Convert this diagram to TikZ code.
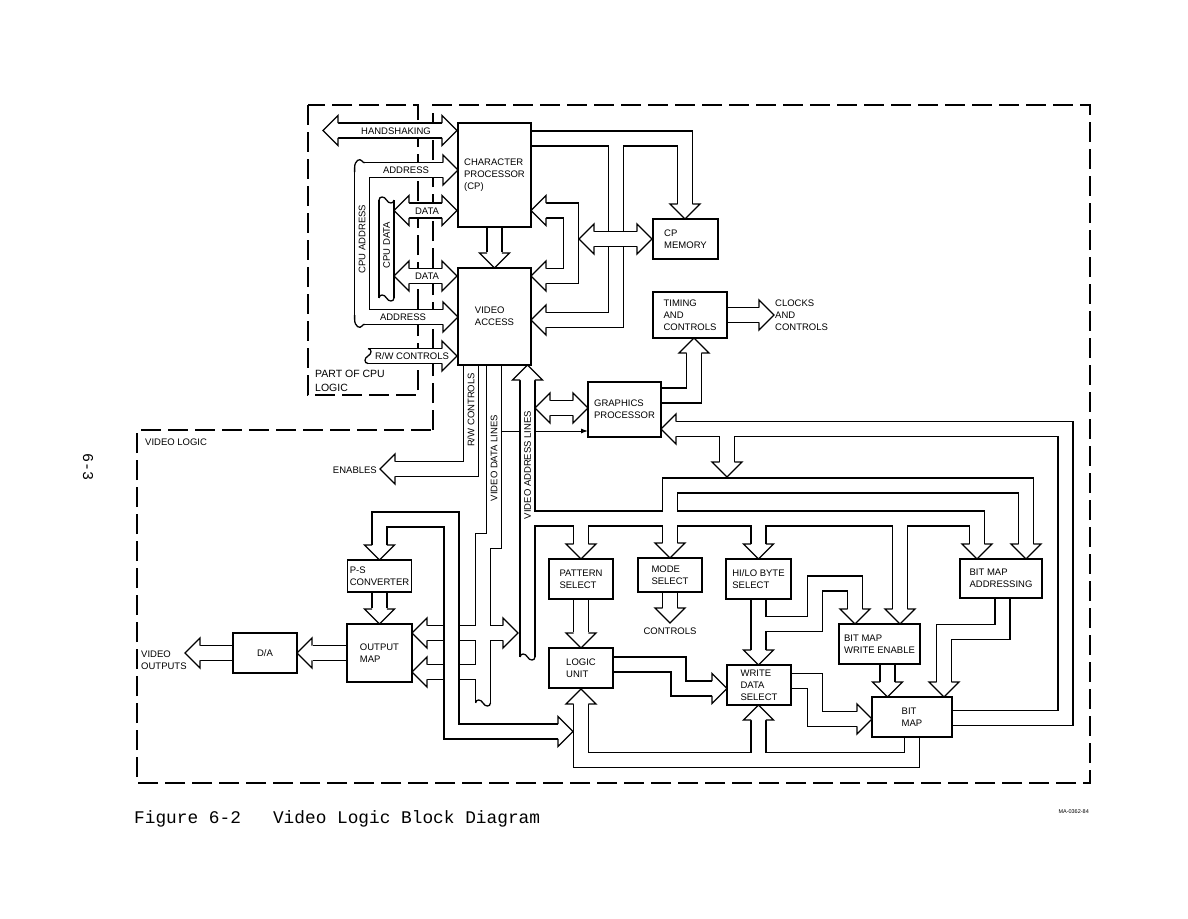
\documentclass[tikz,border=0pt]{standalone}
\usepackage{fontspec}
\setmainfont{Liberation Sans}
\newfontfamily\typewriter{Liberation Mono}
\usetikzlibrary{arrows.meta}
\pgfdeclarelayer{bg}
\pgfsetlayers{bg,main}

\tikzset{
  blk/.style={draw, line width=1.4pt, inner sep=1pt, align=left, font=\fontsize{9.5}{12}\selectfont},
  bus/.style={double, double distance=13.5pt, line width=1.3pt},
  lbl/.style={inner sep=0pt, font=\fontsize{9.5}{12}\selectfont},
  border/.style={line width=2.2pt, dash pattern=on 20pt off 7pt},
  wire/.style={line width=1pt},
  head/.pic={\filldraw[fill=white, line width=1.3pt] (-15,7.4) -- (-15,15) -- (0,0) -- (-15,-15) -- (-15,-7.4);},
  brk/.pic={\draw[line width=1.3pt] (0,-7.4) .. controls (4,-7.4) and (4,-2) .. (0,0) .. controls (-4,2) and (-4,7.4) .. (0,7.4);}
}

\begin{document}
\begin{tikzpicture}[x=1pt, y=-1pt]
    \useasboundingbox (0,0) rectangle (1188,918);

    % Blocks
    \node[blk, minimum width=73, minimum height=104] (cp) at (494.5,175) {CHARACTER\\PROCESSOR\\(CP)};
    \node[blk, minimum width=73, minimum height=97] (va) at (494.5,316.5) {VIDEO\\ACCESS};
    \node[blk, minimum width=65, minimum height=40] (cpm) at (685.5,239) {CP\\MEMORY};
    \node[blk, minimum width=74, minimum height=46] (tim) at (690,315) {TIMING\\AND\\CONTROLS};
    \node[blk, minimum width=73, minimum height=55] (gp) at (624.5,409.5) {GRAPHICS\\PROCESSOR};
    \node[blk, minimum width=64, minimum height=32] (ps) at (379.5,576) {P-S\\CONVERTER};
    \node[blk, minimum width=65, minimum height=58] (om) at (379.5,653) {OUTPUT\\MAP};
    \node[blk, minimum width=64, minimum height=40] (da) at (265,653) {D/A};
    \node[blk, minimum width=64, minimum height=40] (pat) at (581,579) {PATTERN\\SELECT};
    \node[blk, minimum width=64, minimum height=34] (mode) at (670,575) {MODE\\SELECT};
    \node[blk, minimum width=65, minimum height=40] (hilo) at (758.5,579) {HI/LO BYTE\\SELECT};
    \node[blk, minimum width=82, minimum height=39] (bma) at (1001,578.5) {BIT MAP\\ADDRESSING};
    \node[blk, minimum width=81, minimum height=40] (bmwe) at (879.5,644) {BIT MAP\\WRITE ENABLE};
    \node[blk, minimum width=64, minimum height=40] (lu) at (581,668) {LOGIC\\UNIT};
    \node[blk, minimum width=64, minimum height=40] (wds) at (759,685) {WRITE\\DATA\\SELECT};
    \node[blk, minimum width=80, minimum height=40] (bm) at (912,717) {BIT\\MAP};

    \begin{pgfonlayer}{bg}
        \fill[white] (0,0) rectangle (1188,918);

        % Dashed borders
        \draw[border] (308,105) rectangle (418,395);
        \draw[border] (433,430) -- (433,105) -- (1090,105) -- (1090,783) -- (137,783) -- (137,430) -- cycle;

        % CPU side
        \draw[bus] (338,130.5) -- (442,130.5);
        \draw[bus] (443,170) -- (362,170) -- (362,317) -- (443,317);
        \fill[white] (353,160) rectangle (364,172);
        \fill[white] (353,315) rectangle (364,327);
        \draw[bus] (386.5,200) -- (386.5,298);
        \draw[bus] (409,210.5) -- (442,210.5);
        \draw[bus] (409,276) -- (442,276);
        \draw[bus] (368,356) -- (442,356);

        % CP, video access and CP memory
        \draw[bus] (cp.south) -- ([yshift=15pt]va.north);
        \draw[bus] (531,138.5) -- (685,138.5) -- (685,204) (616,138.5) -- (616,320) -- (546,320);
        \draw[bus] (546,210.5) -- (571,210.5) -- (571,276) -- (546,276);
        \draw[bus] (594,239) -- (637,239);

        % Timing and graphics processor
        \draw[bus] (tim.east) -- (759,315);
        \draw[bus] (661,395.5) -- (694,395.5) -- (694,353);
        \draw[bus] (550,408) -- (573,408);
        \draw[bus] (952,718) -- (1065.5,718) -- (1065.5,429) -- (676,429) (727,429) -- (727,462);
        \draw[wire, -{Latex[length=7pt, width=5pt]}] (501.4,431) -- (588,431);

        % R/W controls and video data lines
        \draw[bus] (471,365) -- (471,469) -- (395,469);
        \draw[bus] (494,365) -- (494,541) -- (483,541) -- (483,703) (483,633) -- (427,633)
            (483,633) -- (503,633) (483,672) -- (427,672);
        \draw[bus] (379.5,545) -- (379.5,519.5) -- (451.5,519.5) -- (451.5,731.5) -- (558,731.5);

        % Video address lines
        \draw[bus] (527.5,380) -- (527.5,657) (527.5,518.5) -- (977,518.5) -- (977,544)
            (581,518.5) -- (581,544) (670,518.5) -- (670,543) (758.5,518.5) -- (758.5,544)
            (900,518.5) -- (900,609) (670,518.5) -- (670,485.5) -- (1026,485.5) -- (1026,544);

        % Output side
        \draw[bus] (ps.south) -- ([yshift=15pt]om.north);
        \draw[bus] (om.west) -- ([xshift=15pt]da.east);
        \draw[bus] (da.west) -- (200,653);

        % Bit map side
        \draw[bus] (pat.south) -- ([yshift=15pt]lu.north);
        \draw[bus] (mode.south) -- (670,608);
        \draw[bus] (758.5,599) -- (758.5,650) (758.5,624) -- (815,624) -- (815,583.5) -- (855,583.5) -- (855,609);
        \draw[bus] (887.5,664) -- (887.5,682);
        \draw[bus] (613,664.5) -- (678.5,664.5) -- (678.5,688.5) -- (712,688.5);
        \draw[bus] (791,681) -- (815,681) -- (815,719) -- (857,719);
        \draw[bus] (1002.5,598) -- (1002.5,632) -- (944,632) -- (944,682);
        \draw[bus] (912,737) -- (912,760) -- (581,760) -- (581,704) (758.5,760) -- (758.5,720);
    \end{pgfonlayer}

    % Broken bus ends
    \draw[line width=1.3pt] (354.6,172) -- (354.6,168) .. controls (354.6,160) and (360,158) .. (362,161) .. controls (363,163) and (364,162.6) .. (365,162.6);
    \draw[line width=1.3pt] (354.6,315) -- (354.6,319) .. controls (354.6,327) and (360,329) .. (362,326) .. controls (363,324) and (364,324.4) .. (365,324.4);
    \pic[rotate=90] at (386.5,200) {brk};
    \pic[rotate=-90] at (386.5,298) {brk};
    \pic[rotate=180] at (368,356) {brk};
    \pic[rotate=-90] at (483,703) {brk};
    \pic[rotate=-90] at (527.5,657) {brk};

    % Arrow heads
    \foreach \x/\y in {457/130.5, 458/170, 458/317, 457/210.5, 457/276, 457/356, 652/239, 774/315,
        588/408, 518/633, 573/731.5, 727/688.5, 872/719}
        \pic at (\x,\y) {head};
    \foreach \x/\y in {323/130.5, 394/210.5, 394/276, 531/320, 531/210.5, 531/276, 579/239, 535/408,
        661/429, 380/469, 412/633, 412/672, 297/653, 185/653}
        \pic[rotate=180] at (\x,\y) {head};
    \foreach \x/\y in {494.5/268, 685/219, 727/477, 581/559, 670/558, 758.5/559, 900/624, 977/559,
        1026/559, 379.5/560, 379.5/624, 581/648, 670/623, 758.5/665, 855/624, 887.5/697, 944/697}
        \pic[rotate=-90] at (\x,\y) {head};
    \foreach \x/\y in {694/338, 527.5/365, 581/689, 758.5/705}
        \pic[rotate=90] at (\x,\y) {head};

    % Bus labels
    \node[lbl] (lhs) at (396,131) {HANDSHAKING};
    \node[lbl] (ladr) at (406,170.5) {ADDRESS};
    \node[lbl] (ldat) at (427,211) {DATA};
    \node[lbl] (ldatb) at (427,276.5) {DATA};
    \node[lbl] (ladrb) at (403,317.5) {ADDRESS};
    \node[lbl] (lrw) at (412,356.5) {R/W CONTROLS};
    \node[lbl, rotate=90] (lcpua) at (362,239) {CPU ADDRESS};
    \node[lbl, rotate=90] (lcpud) at (386.5,245) {CPU DATA};
    \node[lbl, rotate=90] (lrwc) at (471,410) {R/W CONTROLS};
    \node[lbl, rotate=90] (lvdl) at (494,458) {VIDEO DATA LINES};
    \node[lbl, rotate=90] (lval) at (527.5,465) {VIDEO ADDRESS LINES};

    % Free labels
    \node[lbl, align=left, anchor=west, font=\fontsize{10.5}{14}\selectfont] (lcpu) at (315,381) {PART OF CPU\\LOGIC};
    \node[lbl, anchor=west] (lvl) at (145,442) {VIDEO LOGIC};
    \node[lbl, align=left, anchor=west] (lclk) at (775,315) {CLOCKS\\AND\\CONTROLS};
    \node[lbl, anchor=east] (len) at (377,470) {ENABLES};
    \node[lbl] (lctl) at (670,631) {CONTROLS};
    \node[lbl, align=left, anchor=west] (lout) at (141,660) {VIDEO\\OUTPUTS};

    % Page text
    \node[rotate=-90, inner sep=0pt, font=\typewriter\fontsize{15}{15}\selectfont] (pg) at (88,467) {6-3};
    \node[anchor=east, inner sep=0pt, font=\fontsize{5.5}{6}\selectfont] (ma) at (1089,812) {MA-0362-84};
    \node[anchor=base west, inner sep=0pt, font=\typewriter\fontsize{17.8}{20}\selectfont] (cap) at (134,823)
        {Figure 6-2~~~Video Logic Block Diagram};
\end{tikzpicture}
\end{document}
